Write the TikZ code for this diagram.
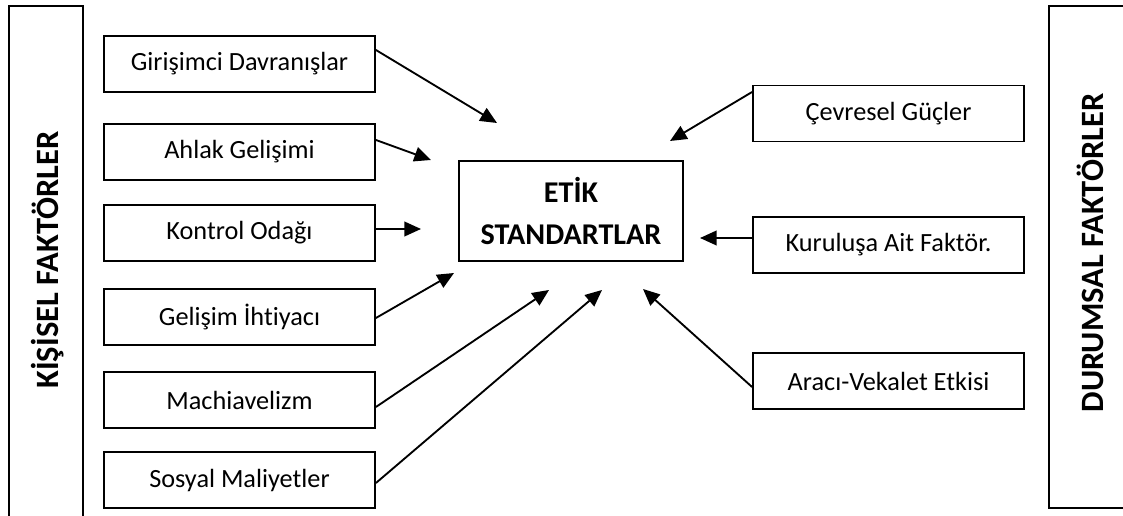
\documentclass[tikz,border=0pt]{standalone}
\usepackage{fontspec}
\setmainfont{Carlito}[Ligatures={NoCommon}]
\usetikzlibrary{arrows.meta,calc}
\begin{document}
\begin{tikzpicture}[x=0.75pt,y=-0.75pt,
  factor/.style={draw,line width=1.4pt,minimum width=271*0.75pt,minimum height=56*0.75pt,inner sep=0pt,
    font=\fontsize{19.7}{23}\selectfont},
  center/.style={draw,line width=1.4pt,minimum width=224*0.75pt,minimum height=100*0.75pt,inner sep=0pt,align=center,
    font=\fontsize{22.6}{32}\selectfont\bfseries},
  side/.style={rotate=90,font=\fontsize{24.4}{27}\selectfont\bfseries,inner sep=0pt},
  frame/.style={line width=1.4pt},
  arr/.style={line width=1.4pt,-{Triangle[length=12.5pt,width=11pt]}}]
\useasboundingbox (0,0) rectangle (1123,516);
% side frames
\draw[frame] (9,530) -- (9,6) -- (83,6) -- (83,530);
\draw[frame] (1140,6) -- (1049,6) -- (1049,508) -- (1140,508);
\node[side] (kis) at (48,260) {KİŞİSEL FAKTÖRLER};
\node[side] (dur) at (1090,253) {DURUMSAL FAKTÖRLER};
% left factors
\node[factor] (gir) at (239.5,64) {Girişimci Davranışlar};
\node[factor] (ahl) at (239.5,152) {Ahlak Gelişimi};
\node[factor] (kon) at (239.5,233) {Kontrol Odağı};
\node[factor] (gel) at (239.5,317) {Gelişim İhtiyacı};
\node[factor] (mac) at (239.5,400) {Machiavelizm};
\node[factor] (sos) at (239.5,480) {Sosyal Maliyetler};
% center
\node[center] (etk) at (571,211) {ETİK\\STANDARTLAR};
% right factors
\node[factor] (cev) at (888.5,113.5) {Çevresel Güçler};
\node[factor] (kur) at (888.5,245) {Kuruluşa Ait Faktör.};
\node[factor] (ara) at (888.5,381) {Aracı-Vekalet Etkisi};
% arrow tips
\coordinate (t1) at (497,123);
\coordinate (t2) at (431,160);
\coordinate (t3) at (421,229);
\coordinate (t4) at (454,273);
\coordinate (t5) at (549,290);
\coordinate (t6) at (602,290);
\coordinate (t7) at (643,289);
\coordinate (t8) at (700,238);
\coordinate (t9) at (670,141);
% arrows
\draw[arr] ($(gir.east)+(0,-14)$) -- (t1);
\draw[arr] ($(ahl.east)+(0,-12)$) -- (t2);
\draw[arr] ($(kon.east)+(0,-4)$) -- (t3);
\draw[arr] ($(gel.east)+(0,1)$) -- (t4);
\draw[arr] ($(mac.east)+(0,7)$) -- (t5);
\draw[arr] ($(sos.east)+(0,3)$) -- (t6);
\draw[arr] ($(ara.west)+(0,6)$) -- (t7);
\draw[arr] ($(kur.west)+(0,-7)$) -- (t8);
\draw[arr] ($(cev.west)+(0,-21.5)$) -- (t9);
\end{tikzpicture}
\end{document}
